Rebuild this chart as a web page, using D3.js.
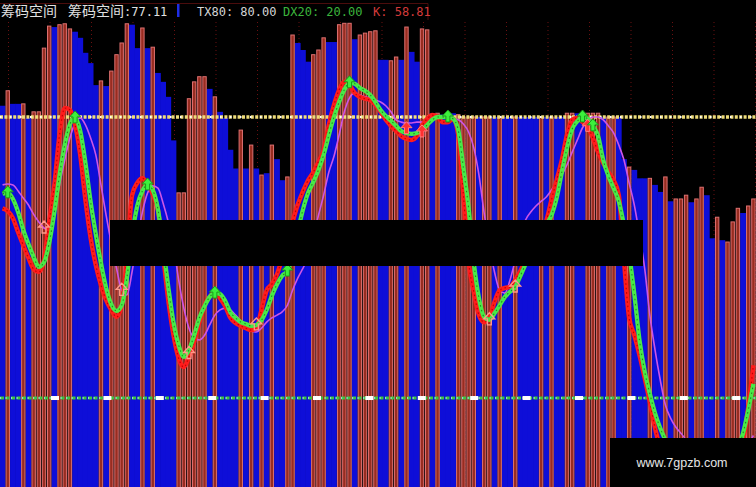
<!DOCTYPE html>
<html><head><meta charset="utf-8">
<script src="https://cdn.jsdelivr.net/npm/d3@7"></script>
<style>html,body{margin:0;padding:0;background:#000;overflow:hidden} svg{display:block}</style>
</head><body><svg id="c" width="756" height="487"></svg>
<script>
// ---- data ----
const barKinds = ("brbbrbrrrrbrrrbbbbbrbrrrrbbrbrbbbbrrrrrrbrbbbbrbrbrbrbbrrbbbrrrbbrrrbrrrrbbrrbrbbrrbrbbbrrrrbrrbrbbrbbbbrbrbbrrbbrrrbrrbbrbbbrbbrbrrrbrrbbrbrrrbrr").split("");
const barValues = [82.4,85.6,82.8,82.8,82.8,79.8,81.1,81.1,94.7,99.4,
 99.2,99.7,99.9,98.8,98.2,96.9,93.7,91.5,86.8,87.7,
 86.6,89.8,93.3,95.8,99.9,99.7,94.7,99.0,94.7,94.9,
 89.4,87.5,84.3,75.0,63.8,63.8,83.9,87.5,88.6,88.6,
 86.0,84.3,81.1,79.8,73.0,69.0,77.2,69.0,74.0,69.0,
 67.6,68.0,74.0,71.0,66.5,67.2,97.5,95.8,94.3,91.8,
 93.3,94.3,96.9,96.0,96.0,99.7,100,100,96.6,97.5,
 97.9,98.2,98.4,92.2,92.2,92.0,92.8,92.2,99.2,93.9,
 91.8,98.8,98.6,80.8,80.8,80.5,80.8,80.8,80.5,80,
 80,80,80,80,80,80,80,80,80,80,
 80,80,80,80,80,80,80,80,80,80.8,
 80.8,80.8,80.8,80.8,80.8,80.8,80,80,80,80,
 71,69.3,68.7,66.9,66.9,66.9,65.5,64,67.2,62,
 62.5,62.5,63.3,61.8,62.5,65.0,63.3,54.1,58.6,53.7,
 53.3,57.6,60.5,59.5,61.0,62.5];
const kLine = [60.5,59.9,58.4,55.4,52.6,49.9,47.5,46.9,49.5,57.6,
 65.5,76.2,81.9,81.5,78.3,71.9,62.3,54.2,48.4,44.1,
 40.9,38.8,37.3,39.8,49.5,63.3,65.9,66.9,65.7,63.5,
 60.1,50.5,40.9,33.5,28.5,26.6,28.8,32.0,36.2,39.8,
 41.6,42.7,41.3,39.6,37.1,36.0,35.4,34.9,34.5,34.9,
 38.8,43.0,44.3,46.4,49.9,53.7,57.6,61.3,64.1,66.5,
 68.2,70.4,72.9,78.3,82.6,85.8,87.5,86.8,85.1,84.3,
 83.9,83.6,82.6,81.1,79.4,78.1,77.0,75.9,75.3,75.1,
 75.9,78.1,79.6,80.4,80.0,78.9,78.9,79.6,76.2,63.3,
 49.0,42.7,37.7,36.2,37.1,40.5,43.0,43.5,43.7,45.2,
 47.1,49.5,51.6,53.7,55.9,57.8,62.3,66.5,70.8,76.2,
 79.4,79.8,78.9,77.9,75.5,72.5,70.2,68.2,66.5,63.3,
 49.5,37.1,33.5,29.2,24.3,19.2,13.6,9.3,5.7,3,
 1,0,-1,-2,-2,-1,0,1,2,3,
 2,4,7,11,18,27];
const dLine = [63.6,63.8,62.5,59.7,55.9,52.9,50.1,48.0,49.0,53.1,
 59.7,67.6,74.0,78.5,79.8,77.0,70.2,61.9,55.0,48.8,
 43.5,40.0,38.6,39.8,45.6,54.6,61.0,64.2,65.5,64.4,
 60.3,52.3,43.7,36.2,31.3,28.8,30.3,33.4,37.1,39.6,
 41.6,42.4,42.2,40.7,38.3,37.1,36.2,35.8,35.4,35.6,
 36.6,38.8,41.8,44.3,46.1,47.1,50.5,55.5,60.2,63.8,
 66.1,68.7,71.9,76.1,80.0,83.2,85.8,87.3,87.1,86.2,
 85.6,84.7,83.2,81.5,80.2,79.2,78.1,77.0,76.6,76.4,
 76.6,77.2,78.3,79.4,80.0,80.0,80.0,79.6,77.2,69.1,
 60.5,49.0,41.3,37.3,36.7,38.1,39.8,41.6,42.7,43.7,
 46.1,48.6,51.2,53.7,55.6,57.1,59.0,62.7,68.2,73.4,
 77.4,79.1,80.0,79.6,78.1,75.9,70.8,67.4,64.8,62.0,
 56.9,50.7,42.2,32.4,25.7,20.9,16.8,13.6,11.0,8,
 5,3,1,0,0,0,1,2,1,0,
 2,5,9,12.5,17.4,23];
const jLine = [65.5,65.7,65.5,64.2,62.7,61.2,59.2,57.6,56.3,55.9,
 59.7,65.5,70.8,75.5,78.7,79.8,78.3,75.5,71.9,65.5,
 59.0,53.0,47.7,43.0,42.0,46.9,53.7,59.7,63.8,65.3,
 64.8,61.6,57.6,52.6,45.2,39.2,34.9,32.8,32.4,33.4,
 35.6,37.7,38.8,39.2,38.8,37.7,36.4,35.0,34.3,34.1,
 34.9,36.2,37.1,37.7,38.4,39.8,43.0,45.6,47.7,49.9,
 54.2,59.0,63.3,68.2,71.6,76.2,81.1,84.1,85.1,84.7,
 84.3,84.1,83.6,83.2,82.4,81.1,79.4,78.9,78.7,78.7,
 78.9,78.9,79.4,79.8,80.0,80.0,79.8,79.6,79.4,78.5,
 76.8,73.4,67.6,59.5,52.6,46.9,43.0,42.4,45.2,49.5,
 54.2,58.0,59.7,61.0,62.0,62.9,64.4,66.1,67.6,69.8,
 72.5,75.1,77.7,79.2,80.0,80.0,79.4,78.1,76.6,74.0,
 70.8,65.9,61.2,54.8,47.7,37.7,30.3,23.9,18.5,15.7,
 13.8,12.5,11.0,9,8,7,6,5,5,5,
 5,6,7,8,10,12];
const refLevels = [80, 20];
const greenMarkIdx = [1, 14, 28, 41, 55, 67, 86, 112, 114];
const pinkMarkIdx = [8, 23, 36, 49, 94, 99];
const pinkMarkVal = [56.3, 43.0, 29.5, 35.6, 36.7, 43.7];
const redMarkIdx = [78, 81, 113];
const redMarkVal = [77.5, 76.8, 78.0];
// title pieces: [CJK part, latin part]
const titleTexts = [["筹码空间", ""], ["筹码空间", ":77.11"], ["", "TX80: 80.00"], ["", "DX20: 20.00"], ["", "K: 58.81"]];

// ---- chart ----
const W = 756, H = 487;
const svg = d3.select("#c");
svg.append("rect").attr("width", W).attr("height", H).attr("fill", "#000");
const idx = d3.range(barValues.length);
const x = d3.scaleBand().domain(idx).range([0, W]).paddingInner(0);
const y = d3.scaleLinear().domain([0, 100]).range([491.7, 23.3]);
const bw = x.bandwidth();
const cx = i => x(i) + bw / 2;

// faint vertical grid in the dark zones
const gx = d3.range(0, 19).map(k => 8.5 + 41.5 * k);
svg.append("g").selectAll("line").data(gx).join("line")
  .attr("x1", d => d).attr("x2", d => d).attr("y1", 22).attr("y2", H)
  .attr("stroke", "#6a1010").attr("stroke-width", 1).attr("stroke-dasharray", "1,3");

// bars
const bars = svg.append("g");
bars.selectAll("rect.b").data(idx.filter(i => barKinds[i] === "b")).join("rect")
  .attr("class", "b")
  .attr("x", i => x(i) - 0.3).attr("width", bw + 0.6)
  .attr("y", i => y(barValues[i])).attr("height", i => y(0) - y(barValues[i]))
  .attr("fill", "#0e0ed8");
bars.selectAll("rect.r").data(idx.filter(i => barKinds[i] === "r")).join("rect")
  .attr("class", "r")
  .attr("x", i => x(i) + 0.9).attr("width", bw - 1.8)
  .attr("y", i => y(barValues[i])).attr("height", i => y(0) - y(barValues[i]))
  .attr("fill", "#982c20").attr("stroke", "#dc7070").attr("stroke-width", 1);

// reference lines
const yTop = y(refLevels[0]), yBot = y(refLevels[1]);
svg.append("line").attr("x1", 0).attr("x2", W).attr("y1", yTop).attr("y2", yTop)
  .attr("stroke", "#eedc78").attr("stroke-width", 3.5).attr("stroke-dasharray", "3,1.4");
svg.append("line").attr("x1", 0).attr("x2", W).attr("y1", yTop).attr("y2", yTop)
  .attr("stroke", "#ffffff").attr("stroke-width", 2).attr("stroke-dasharray", "1.5,8.5");
svg.append("line").attr("x1", 0).attr("x2", W).attr("y1", yBot).attr("y2", yBot)
  .attr("stroke", "#3cc43c").attr("stroke-width", 3).attr("stroke-dasharray", "4,1.5");
svg.append("line").attr("x1", 0).attr("x2", W).attr("y1", yBot).attr("y2", yBot)
  .attr("stroke", "#9fe8ff").attr("stroke-width", 1.4).attr("stroke-dasharray", "1.2,4.3");
svg.append("g").selectAll("rect").data(d3.range(0, 14).map(k => 51 + 52.4 * k)).join("rect")
  .attr("x", d => d).attr("y", yBot - 2).attr("width", 8).attr("height", 4).attr("fill", "#ffffff");

// lines
const clip = svg.append("clipPath").attr("id", "clp").append("rect")
  .attr("x", 0).attr("y", 20).attr("width", W).attr("height", H - 20);
const line = d3.line().x((d, i) => cx(i)).y(d => y(d)).curve(d3.curveMonotoneX);
const lg = svg.append("g").attr("clip-path", "url(#clp)");
lg.append("path").attr("d", line(jLine)).attr("fill", "none")
  .attr("stroke", "#cc55e6").attr("stroke-width", 1.6);
lg.append("path").attr("d", line(kLine)).attr("fill", "none")
  .attr("stroke", "#ff1c1c").attr("stroke-width", 4.5).attr("stroke-linejoin", "round");
lg.append("path").attr("d", line(kLine)).attr("fill", "none")
  .attr("stroke", "#c00000").attr("stroke-width", 1.2).attr("stroke-dasharray", "1.5,3");
lg.append("path").attr("d", line(dLine)).attr("fill", "none")
  .attr("stroke", "#48ea48").attr("stroke-width", 4.3).attr("stroke-linejoin", "round");
lg.append("path").attr("d", line(dLine)).attr("fill", "none")
  .attr("stroke", "#1f8a1f").attr("stroke-width", 1.1).attr("stroke-dasharray", "1.5,3.5");

// markers
const arrow = "M0,-7L5.5,-1L2,-1L2,5L-2,5L-2,-1L-5.5,-1Z";
lg.selectAll("path.pm").data(pinkMarkIdx.map((d, k) => [d, pinkMarkVal[k]])).join("path")
  .attr("class", "pm").attr("d", arrow)
  .attr("transform", d => `translate(${cx(d[0])},${y(d[1])})`)
  .attr("fill", "none").attr("stroke", "#ff9a8a").attr("stroke-width", 1.3);
lg.selectAll("path.rm").data(redMarkIdx.map((d, k) => [d, redMarkVal[k]])).join("path")
  .attr("class", "rm").attr("d", arrow)
  .attr("transform", d => `translate(${cx(d[0])},${y(d[1])})`)
  .attr("fill", "#ff3030").attr("stroke", "#ff8080").attr("stroke-width", 1);
lg.selectAll("path.gm").data(greenMarkIdx).join("path")
  .attr("class", "gm").attr("d", arrow)
  .attr("transform", i => `translate(${cx(i)},${y(dLine[i])})`)
  .attr("fill", "#3cf03c").attr("stroke", "#1a9a1a").attr("stroke-width", 1);

// occluding black band and watermark box
svg.append("rect").attr("x", 110).attr("y", 220).attr("width", 533).attr("height", 46).attr("fill", "#000");
svg.append("rect").attr("x", 610).attr("y", 438).attr("width", 146).attr("height", 49).attr("fill", "#000");
svg.append("text").attr("x", 682).attr("y", 467).attr("text-anchor", "middle")
  .attr("font-family", "'Liberation Sans', Arial, sans-serif").attr("font-size", 12.5)
  .attr("fill", "#e6e6e6").text("www.7gpzb.com");

// title
svg.append("line").attr("x1", 0).attr("x2", 428).attr("y1", 3.5).attr("y2", 3.5)
  .attr("stroke", "#4a0c0c").attr("stroke-width", 1);
svg.append("line").attr("x1", 428).attr("x2", 428).attr("y1", 3.5).attr("y2", 20)
  .attr("stroke", "#4a0c0c").attr("stroke-width", 1);
const tpos = [1, 68, 197, 283, 373];
const tcol = ["#e0e0e0", "#e0e0e0", "#d4d4d4", "#3cb43c", "#d43a3a"];
const tg = svg.append("g").selectAll("text").data(titleTexts).join("text")
  .attr("x", (d, i) => tpos[i]).attr("y", 16).attr("fill", (d, i) => tcol[i]);
tg.append("tspan").attr("font-family", "'Noto Sans CJK SC', sans-serif").attr("font-size", 14)
  .text(d => d[0]);
tg.append("tspan").attr("font-family", "'DejaVu Sans Mono', monospace").attr("font-size", 12)
  .text(d => d[1]);
svg.append("rect").attr("x", 177).attr("y", 4).attr("width", 2.5).attr("height", 13).attr("fill", "#1e2ee6");
</script>
</body></html>
